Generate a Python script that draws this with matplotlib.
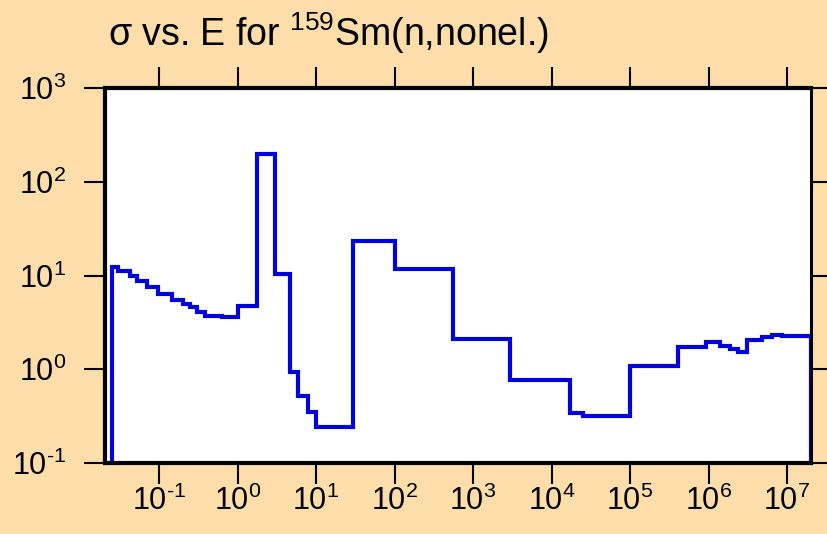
import numpy as np
import matplotlib
matplotlib.use('Agg')
from matplotlib import pyplot as plt
from matplotlib.ticker import FuncFormatter

# bin edges in eV and cross section in barns (step histogram)
edges = [0.0253, 0.0303, 0.0428, 0.052, 0.070, 0.098, 0.145, 0.204, 0.248, 0.302,
         0.385, 0.63, 1.0, 1.76, 3.0, 4.67, 5.96, 7.98, 10, 30, 100, 550, 2960,
         17200, 24900, 1e5, 4.05e5, 9.3e5, 1.4e6, 1.88e6, 2.4e6, 3.07e6, 4.77e6,
         6.4e6, 8.6e6, 2e7]
sigma = [12.4, 11.2, 9.95, 8.7, 7.5, 6.35, 5.5, 5.0, 4.6, 4.1, 3.7, 3.6, 4.7,
         198, 10.3, 0.94, 0.52, 0.35, 0.244, 23.3, 11.6, 2.08, 0.77, 0.34, 0.32,
         1.09, 1.74, 1.97, 1.77, 1.66, 1.54, 2.05, 2.22, 2.30, 2.26]

xticks = [1e-1, 1e0, 1e1, 1e2, 1e3, 1e4, 1e5, 1e6, 1e7]
yticks = [1e-1, 1e0, 1e1, 1e2, 1e3]

plt.rcParams['font.family'] = ['Liberation Sans', 'DejaVu Sans']
plt.rcParams['mathtext.fontset'] = 'custom'
plt.rcParams['mathtext.rm'] = 'Liberation Sans'
plt.rcParams['mathtext.it'] = 'Liberation Sans'
plt.rcParams['mathtext.default'] = 'regular'


def pow10(v, pos):
    e = int(round(np.log10(v)))
    return r'$10^{\text{%d}}$' % e


bg = '#fddeab'
fig = plt.figure(figsize=(8.27, 5.34), dpi=100, facecolor=bg)
ax = fig.add_axes([105/827, 71/534, 706/827, 375/534])
ax.set_facecolor('white')

ax.stairs(sigma, edges, baseline=1e-2, color='#0000dd', linewidth=3)

ax.set_xscale('log')
ax.set_yscale('log')
ax.set_xlim(0.0205, 2.02e7)
ax.set_ylim(1e-1, 1e3)
ax.set_xticks(xticks)
ax.set_yticks(yticks)
ax.minorticks_off()
ax.xaxis.set_major_formatter(FuncFormatter(pow10))
ax.yaxis.set_major_formatter(FuncFormatter(pow10))

for s in ax.spines.values():
    s.set_linewidth(3)
    s.set_color('black')
ax.spines['right'].set_linewidth(2.2)

ax.tick_params(which='major', direction='out', length=15, width=1.5,
               top=True, right=True, labeltop=False, labelright=False,
               labelsize=22, colors='black')
ax.tick_params(axis='x', pad=1)
ax.tick_params(axis='y', pad=13)

fig.text(108/827, 1 - 46/534, r'σ vs. E for $^{159}$Sm(n,nonel.)',
         fontsize=27, va='baseline', ha='left')

fig.savefig('out.png', dpi=100, facecolor=bg)
